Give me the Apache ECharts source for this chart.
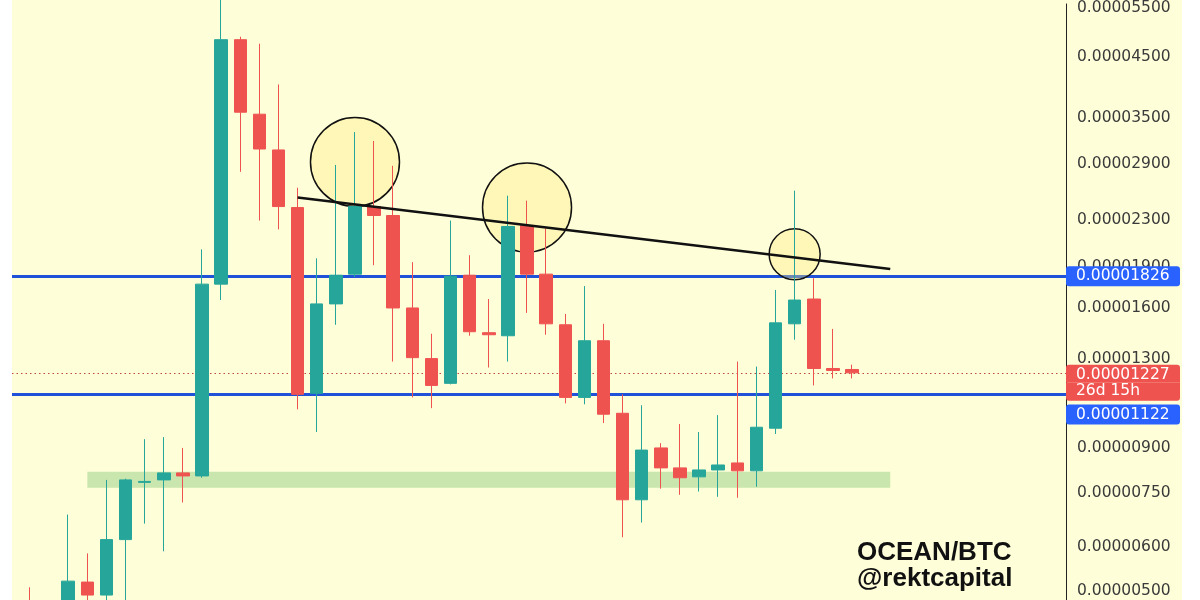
<!DOCTYPE html>
<html>
<head>
<meta charset="utf-8">
<script src="https://cdn.jsdelivr.net/npm/echarts@6/dist/echarts.min.js"></script>
<style>
html,body{margin:0;padding:0;background:#ffffff;}
#chart{width:1200px;height:600px;}
</style>
</head>
<body>
<div id="chart"></div>
<script>
// Prices are in satoshis (1e-8 BTC)
const SAT = 1e-8;
const periods = [0,1,2,3,4,5,6,7,8,9,10,11,12,13,14,15,16,17,18,19,20,21,22,23,24,25,26,27,28,29,30,31,32,33,34,35,36,37,38,39,40,41,42,43];
const opens  = [475,445,470,519,492,618,782,790,813,803,1767,4828,3554,3068,2421,1128,1629,1841,2431,2343,1602,1301,1175,1833,1447,1429,2249,1841,1495,1109,1400,1039,728,901,830,800,823,847,820,977,1501,1662,1249,1244];
const closes = [445,468,521,492,618,790,785,813,803,1767,4828,3583,3080,2431,1123,1629,1833,2431,2343,1602,1306,1165,1826,1453,1435,2240,1841,1501,1109,1400,1035,728,893,830,797,823,840,820,981,1507,1655,1249,1239,1227];
const lows   = [425,430,455,470,470,470,660,589,720,797,1655,2804,2295,2213,1056,962,1495,1819,1910,1285,1109,1061,1170,1429,1254,1285,1570,1435,1082,1078,998,624,663,762,743,753,737,734,768,954,1406,1165,1199,1199];
const highs  = [508,478,685,584,790,794,934,942,901,2039,5800,4887,4749,4017,2627,1965,2885,3302,3183,2874,1934,1441,2295,1990,1662,2542,2491,2222,1563,1753,1501,1123,1074,919,994,962,1031,1285,1259,1725,2595,1811,1470,1269];

const yTicks = [0.000005,0.000006,0.0000075,0.000009,0.000013,0.000016,0.000019,0.000023,0.000029,0.000035,0.000045,0.000055];

const resistanceLevel = 1826;
const supportLevel = 1122;
const lastPrice = 1227;
const countdown = '26d 15h';

const trendLine = [[14, 2522], [45, 1881]];
const supportZone = {from: 3, to: 45, low: 765, high: 817};
const highlightPoints = [[17, 2921], [26, 2421], [40, 1998]];
const pairLabel = 'OCEAN/BTC';
const authorLabel = '@rektcapital';

const candleData = periods.map((p, i) => [p, opens[i]*SAT, closes[i]*SAT, lows[i]*SAT, highs[i]*SAT]);

const labelFont = 'DejaVu Sans';
const rich = {
  gap40: {lineHeight: 40, fontSize: 10},
  gap20: {lineHeight: 20, fontSize: 10},
  b: {backgroundColor: '#2962ff', color: '#ffffff', fontSize: 15.5, fontFamily: labelFont, lineHeight: 18, padding: [2, 10, 2, 10], borderRadius: 3, width: 94},
  r1: {backgroundColor: '#ef5350', color: '#ffffff', fontSize: 15.5, fontFamily: labelFont, lineHeight: 18, padding: [2, 10, 0, 10], borderRadius: [3, 3, 0, 0], width: 94},
  r2: {backgroundColor: '#ef5350', color: '#ffffff', fontSize: 15.5, fontFamily: labelFont, lineHeight: 18, padding: [0, 10, 2, 10], borderRadius: [0, 0, 3, 3], width: 94}
};

const chart = echarts.init(document.getElementById('chart'), null, {renderer: 'canvas'});
const option = {
  animation: false,
  backgroundColor: '#fefed9',
  graphic: [
    {type: 'rect', left: 0, top: 0, shape: {width: 12, height: 600}, style: {fill: '#ffffff'}, z: 100, silent: true},
    {type: 'rect', left: 1182, top: 0, shape: {width: 18, height: 600}, style: {fill: '#ffffff'}, z: 100, silent: true}
  ],
  title: {
    text: pairLabel + '\n' + authorLabel,
    left: 857, top: 540, padding: 0,
    textStyle: {fontFamily: 'Liberation Sans', fontWeight: 'bold', fontSize: 26, lineHeight: 26, color: '#111111'}
  },
  grid: {left: 12, right: 134, top: 0, bottom: 0, containLabel: false},
  xAxis: {type: 'value', min: -0.9416, max: 54.1946, show: false},
  yAxis: {
    type: 'log', logBase: 10, position: 'right',
    min: 4.821e-6, max: 5.5925e-5,
    axisLine: {show: true, onZero: false, lineStyle: {color: '#222222', width: 1}},
    axisTick: {show: false},
    splitLine: {show: false},
    axisLabel: {
      customValues: yTicks,
      formatter: v => Number(v).toFixed(8),
      margin: 11, color: '#3a3a3a', fontSize: 15.5, fontFamily: labelFont
    }
  },
  series: [
    {
      type: 'scatter', z: 1, silent: true,
      data: highlightPoints.map(p => [p[0], p[1]*SAT]),
      symbol: 'circle',
      symbolSize: (val, params) => params.dataIndex === 2 ? 51 : 89,
      itemStyle: {color: 'rgba(255,234,120,0.35)', borderColor: '#111111', borderWidth: 1.5, opacity: 1},
      markArea: {
        silent: true, z: 1,
        itemStyle: {color: '#c8e6ad', opacity: 1},
        data: [[{xAxis: supportZone.from, yAxis: supportZone.low*SAT}, {xAxis: supportZone.to, yAxis: supportZone.high*SAT}]]
      },
      markLine: {
        silent: true, z: 1, symbol: ['none', 'none'], precision: 12,
        data: [
          {yAxis: resistanceLevel*SAT, lineStyle: {color: '#1f52d8', width: 3, type: 'solid'},
           label: {show: true, position: 'end', distance: 0, formatter: p => '{b|' + Number(p.value).toFixed(8) + '}', rich: rich}},
          {yAxis: supportLevel*SAT, lineStyle: {color: '#1f52d8', width: 3, type: 'solid'},
           label: {show: true, position: 'end', distance: 0, formatter: p => '{gap40| }\n{b|' + Number(p.value).toFixed(8) + '}', rich: rich}},
          {yAxis: lastPrice*SAT, lineStyle: {color: '#c0483c', width: 1, type: [1.5, 3]},
           label: {show: true, position: 'end', distance: 0, formatter: p => '{gap20| }\n{r1|' + Number(p.value).toFixed(8) + '}\n{r2|' + countdown + '}', rich: rich}}
        ]
      }
    },
    {
      type: 'candlestick', z: 2, clip: true,
      barWidth: 13,
      data: candleData,
      itemStyle: {color: '#26a69a', color0: '#ef5350', borderColor: '#26a69a', borderColor0: '#ef5350', borderWidth: 1},
      markLine: {
        silent: true, z: 5, symbol: ['none', 'none'], precision: 12,
        label: {show: false},
        lineStyle: {color: '#111111', width: 2.5, type: 'solid'},
        data: [[{coord: [trendLine[0][0], trendLine[0][1]*SAT]}, {coord: [trendLine[1][0], trendLine[1][1]*SAT]}]]
      }
    }
  ]
};
chart.setOption(option);
</script>
</body>
</html>
